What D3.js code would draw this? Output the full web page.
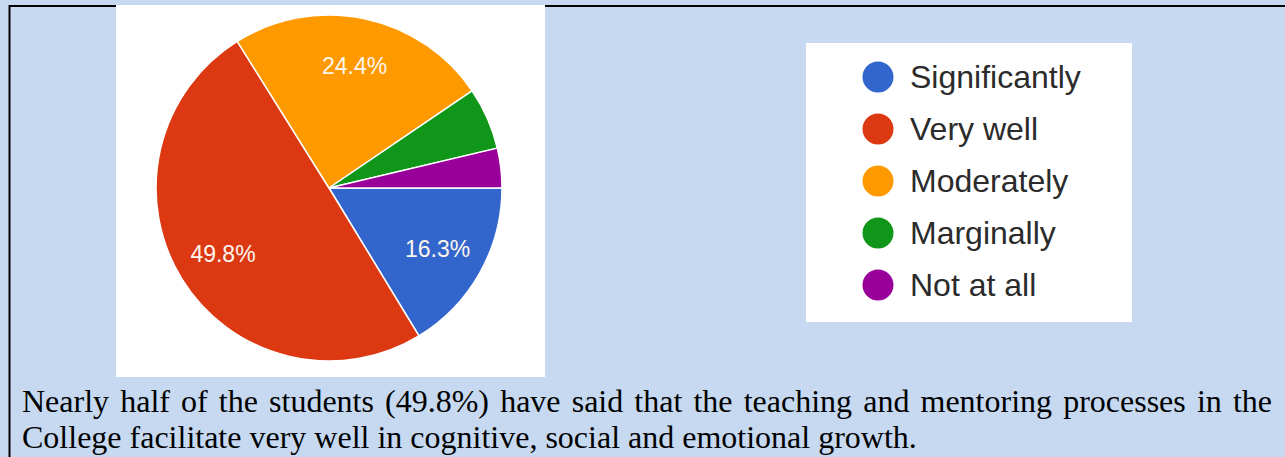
<!DOCTYPE html>
<html>
<head>
<meta charset="utf-8">
<script src="https://cdn.jsdelivr.net/npm/d3@7"></script>
<style>
  body { margin: 0; background: #c6d9f0; }
  svg { display: block; }
</style>
</head>
<body>
<div id="chart"></div>
<script>
const kWidth = 1285;
const kHeight = 457;

const categories = ["Significantly", "Very well", "Moderately", "Marginally", "Not at all"];
const shares = [16.3, 49.8, 24.4, 5.8, 3.7];
const sliceLabels = ["16.3%", "49.8%", "24.4%", "", ""];
const colours = ["#3366cc", "#dc3912", "#ff9900", "#109618", "#990099"];
const captionLines = [
  "Nearly half of the students (49.8%) have said that the teaching and mentoring processes in the",
  "College facilitate very well in cognitive, social and emotional growth."
];

function createSvg()
{
  const svg = d3.select("#chart")
    .append("svg")
    .attr("width", kWidth)
    .attr("height", kHeight);

  svg.append("rect")
    .attr("width", kWidth)
    .attr("height", kHeight)
    .attr("fill", "#c6d9f0");

  // page border (top and left)
  svg.append("path")
    .attr("d", `M9.5,${kHeight} V6 H${kWidth}`)
    .attr("fill", "none")
    .attr("stroke", "#000")
    .attr("stroke-width", 2);

  return svg;
}

function drawPie(svg)
{
  svg.append("rect")
    .attr("x", 116).attr("y", 5)
    .attr("width", 429).attr("height", 372)
    .attr("fill", "#fff");

  const radius = 173;
  const g = svg.append("g").attr("transform", "translate(329, 188)");

  const pie = d3.pie()
    .sort(null)
    .startAngle(Math.PI / 2)
    .endAngle(Math.PI / 2 + 2 * Math.PI);

  const arcs = pie(shares);
  const arc = d3.arc().innerRadius(0).outerRadius(radius);
  const labelArc = d3.arc().innerRadius(radius * 0.72).outerRadius(radius * 0.72);

  g.selectAll("path")
    .data(arcs)
    .enter()
    .append("path")
    .attr("d", arc)
    .attr("fill", (d, i) => colours[i])
    .attr("stroke", "#fff")
    .attr("stroke-width", 1.5);

  g.selectAll("text")
    .data(arcs)
    .enter()
    .append("text")
    .attr("transform", d => `translate(${labelArc.centroid(d)})`)
    .attr("text-anchor", "middle")
    .attr("dy", "0.36em")
    .attr("font-family", "Liberation Sans, Arial, sans-serif")
    .attr("font-size", 23)
    .attr("fill", "#fdf6ee")
    .text((d, i) => sliceLabels[i]);
}

function drawLegend(svg)
{
  svg.append("rect")
    .attr("x", 806).attr("y", 43)
    .attr("width", 326).attr("height", 279)
    .attr("fill", "#fff");

  const y = d3.scalePoint()
    .domain(categories)
    .range([77, 285]);

  const items = svg.selectAll("g.legend")
    .data(categories)
    .enter()
    .append("g")
    .attr("class", "legend")
    .attr("transform", d => `translate(878, ${y(d)})`);

  items.append("circle")
    .attr("r", 15.5)
    .attr("fill", (d, i) => colours[i]);

  items.append("text")
    .attr("x", 32)
    .attr("dy", "0.33em")
    .attr("font-family", "Liberation Sans, Arial, sans-serif")
    .attr("font-size", 32)
    .attr("fill", "#2b2b2b")
    .text(d => d);
}

function drawCaption(svg)
{
  const left = 22;
  const right = 1272;
  const baselines = [412, 448];

  captionLines.forEach((line, i) => {
    const t = svg.append("text")
      .attr("x", left)
      .attr("y", baselines[i])
      .attr("font-family", "Liberation Serif, 'Times New Roman', serif")
      .attr("font-size", 32)
      .attr("fill", "#000")
      .text(line);

    // justify the first line like the source paragraph
    if (i === 0) {
      const natural = t.node().getComputedTextLength();
      const gaps = line.split(" ").length - 1;
      t.attr("word-spacing", (right - left - natural) / gaps);
    }
  });
}

document.addEventListener("DOMContentLoaded", () => {
  const svg = createSvg();
  drawPie(svg);
  drawLegend(svg);
  drawCaption(svg);
});
</script>
</body>
</html>
